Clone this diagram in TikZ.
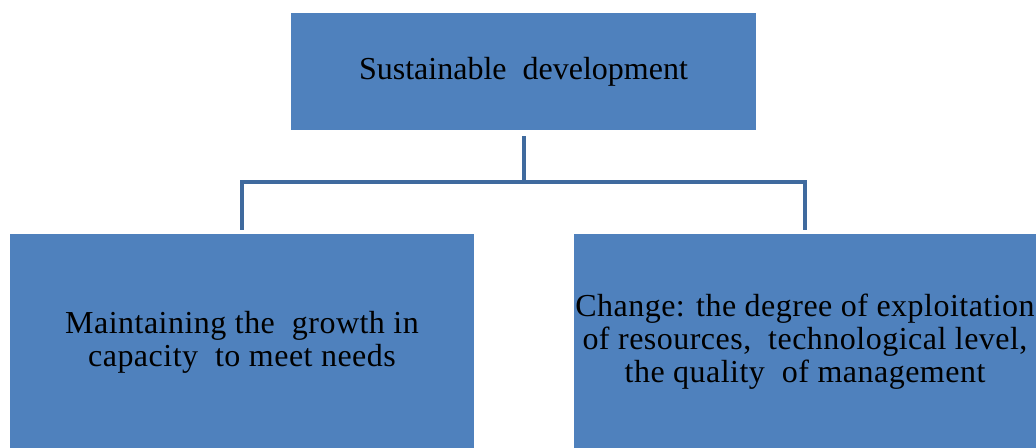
\documentclass[tikz,border=0pt]{standalone}
\usepackage{fontspec}
\setmainfont{Liberation Serif}
\usepackage{xcolor}
\definecolor{boxblue}{HTML}{4F81BD}
\definecolor{linkblue}{HTML}{3F6A9E}

\begin{document}
\begin{tikzpicture}[x=0.75pt,y=-0.75pt,
  block/.style={fill=boxblue,inner sep=0pt,align=center,text=black,
    font=\fontsize{24}{24.75}\selectfont\addfontfeature{LetterSpace=1.5}},
  link/.style={draw=linkblue,line width=3pt}]
\useasboundingbox (0,0) rectangle (1036,448);
\node[block,minimum width=348.75pt,minimum height=87.75pt,
  font=\fontsize{24}{24.75}\selectfont] (goal) at (523.5,71.5)
  {Sustainable\ \ development};
\node[block,minimum width=348pt,minimum height=162pt] (growth) at (242,342)
  {Maintaining the\ \ growth in\\ capacity\ \ to meet needs};
\node[block,minimum width=346.5pt,minimum height=162pt] (change) at (805,342)
  {Change: the degree of exploitation\\ of resources,\ \ technological level,\\ the quality\ \ of management};
\coordinate (hub) at (523.5,182);
\draw[link,shorten <=4.5pt] (goal.south) -- (hub);
\draw[link,shorten >=3pt] (hub) -| (growth.north);
\draw[link,shorten >=3pt] (hub) -| (change.north);
\end{tikzpicture}
\end{document}
